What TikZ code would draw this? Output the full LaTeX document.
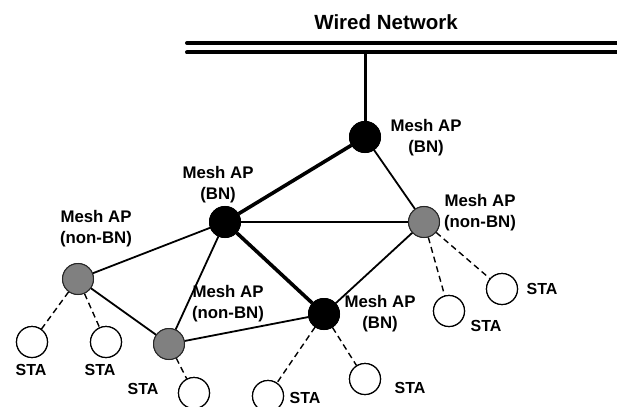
\documentclass[tikz,border=0pt]{standalone}
\usepackage{fontspec}
\setmainfont{Liberation Sans}
\begin{document}
\begin{tikzpicture}[x=1pt,y=-1pt,
  bn/.style={circle,draw=black,line width=1pt,fill=black,minimum size=31pt,inner sep=0pt},
  nonbn/.style={circle,draw=black!85,line width=1pt,fill=black!50,minimum size=31pt,inner sep=0pt},
  sta/.style={circle,draw=black,line width=1.2pt,fill=white,minimum size=31pt,inner sep=0pt},
  lbl/.style={font=\bfseries\fontsize{16.8}{21}\selectfont,align=center,inner sep=0pt},
  stalbl/.style={font=\bfseries\fontsize{16}{19}\selectfont,inner sep=0pt},
  bus/.style={line width=4pt,line cap=round},
  backbone/.style={line width=3.6pt},
  link/.style={line width=1.8pt},
  wlan/.style={line width=1.4pt,dash pattern=on 6pt off 4pt}]
\useasboundingbox (0,0) rectangle (617,406);

% wired backbone bus
\node[font=\bfseries\fontsize{20.5}{23}\selectfont,inner sep=0pt] (wired) at (386,22) {Wired Network};
\coordinate (busA1) at (187,43);
\coordinate (busA2) at (630,43);
\coordinate (busB1) at (187,52.5);
\coordinate (busB2) at (630,52.5);
\coordinate (tap) at (365,52.5);
\draw[bus] (busA1) -- (busA2);
\draw[bus] (busB1) -- (busB2);

% mesh access points
\node[bn] (apTop) at (365,137) {};
\node[bn] (apLeft) at (225,222) {};
\node[bn] (apBot) at (324,314) {};
\node[nonbn] (apRight) at (424,222) {};
\node[nonbn] (apFar) at (78,279) {};
\node[nonbn] (apLow) at (169,344) {};

% stations
\node[sta] (s1) at (32,342) {};
\node[sta] (s2) at (106,342) {};
\node[sta] (s3) at (194,393) {};
\node[sta] (s4) at (268,396) {};
\node[sta] (s5) at (365,379) {};
\node[sta] (s6) at (449,311) {};
\node[sta] (s7) at (502,289) {};

% links: portal uplink and backbone between BN nodes
\draw[line width=3pt] (tap) -- (apTop);
\draw[backbone] (apTop) -- (apLeft);
\draw[backbone] (apLeft) -- (apBot);

% other mesh links
\draw[link] (apTop) -- (apRight);
\draw[link] (apLeft) -- (apRight);
\draw[link] (apRight) -- (apBot);
\draw[link] (apLeft) -- (apFar);
\draw[link] (apLeft) -- (apLow);
\draw[link] (apFar) -- (apLow);
\draw[link] (apLow) -- (apBot);

% station associations
\draw[wlan] (apFar) -- (s1);
\draw[wlan] (apFar) -- (s2);
\draw[wlan] (apLow) -- (s3);
\draw[wlan] (apBot) -- (s4);
\draw[wlan] (apBot) -- (s5);
\draw[wlan] (apRight) -- (s6);
\draw[wlan] (apRight) -- (s7);

% redraw nodes over the links
\node[bn] at (apTop) {};
\node[bn] at (apLeft) {};
\node[bn] at (apBot) {};
\node[nonbn] at (apRight) {};
\node[nonbn] at (apFar) {};
\node[nonbn] at (apLow) {};
\foreach \s in {s1,s2,s3,s4,s5,s6,s7} \node[sta] at (\s) {};

% labels
\node[lbl] (lTop) at (426,138) {Mesh AP\\(BN)};
\node[lbl] (lLeft) at (218,185) {Mesh AP\\(BN)};
\node[lbl] (lBot) at (380,314) {Mesh AP\\(BN)};
\node[lbl] (lRight) at (480,213) {Mesh AP\\(non-BN)};
\node[lbl] (lFar) at (96,229) {Mesh AP\\(non-BN)};
\node[lbl] (lLow) at (228,304) {Mesh AP\\(non-BN)};

\node[stalbl] (t1) at (31,370) {STA};
\node[stalbl] (t2) at (100,370) {STA};
\node[stalbl] (t3) at (143,389) {STA};
\node[stalbl] (t4) at (305,398) {STA};
\node[stalbl] (t5) at (410,388) {STA};
\node[stalbl] (t6) at (486,326) {STA};
\node[stalbl] (t7) at (542,289) {STA};
\end{tikzpicture}
\end{document}
